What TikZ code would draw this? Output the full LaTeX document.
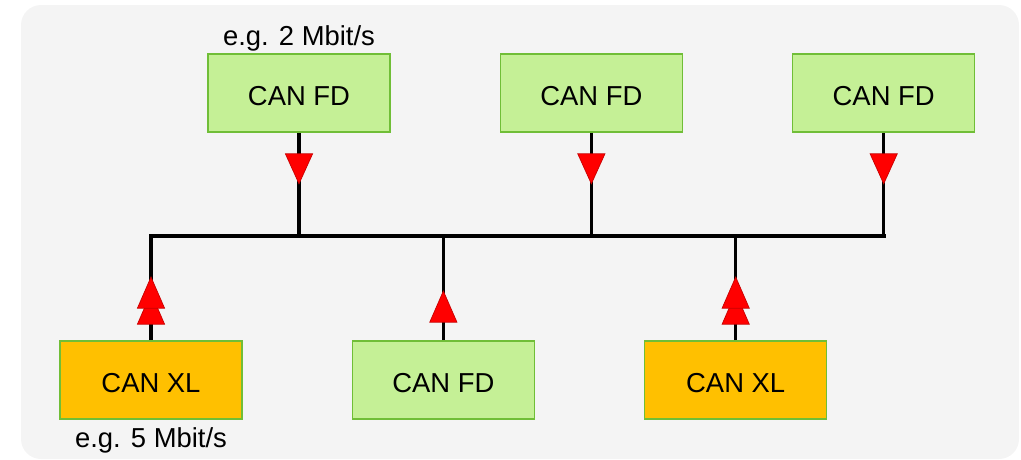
\documentclass[tikz,border=0pt]{standalone}
\usepackage{fontspec}
\setmainfont{Liberation Sans}
\usetikzlibrary{positioning,calc}
\definecolor{bggray}{RGB}{244,244,244}
\definecolor{fdgreen}{RGB}{197,240,150}
\definecolor{xlorange}{RGB}{255,192,0}
\definecolor{boxedge}{RGB}{112,190,55}
\definecolor{tired}{RGB}{255,0,0}
\definecolor{tiredge}{RGB}{200,0,0}

% red markers on the stubs (base centre given)
\newcommand{\downtri}[1]{\filldraw[tri] ($(#1)+(-0.34,0)$) -- ++(0.68,0) -- ++(-0.34,-0.75) -- cycle;}
\newcommand{\uptri}[1]{\filldraw[tri] ($(#1)+(-0.34,0)$) -- ++(0.68,0) -- ++(-0.34,0.78) -- cycle;}

\begin{document}
\begin{tikzpicture}[
      node distance=2.72cm,
      font=\fontsize{19.5}{23}\selectfont,
      canbox/.style={
        draw=boxedge, line width=1.1pt, align=center,
        minimum width=4.55cm, minimum height=1.95cm,
        text height=0.64cm, text depth=0cm
      },
      fd/.style={canbox, fill=fdgreen},
      xl/.style={canbox, fill=xlorange},
      bus/.style={line width=2.8pt, line cap=rect},
      stub/.style={line width=2.2pt},
      tri/.style={fill=tired, draw=tiredge, line width=0.5pt}
    ]
      \useasboundingbox (0,0) rectangle (25.525,-11.475);
      \fill[bggray, rounded corners=0.5cm] (0.525,-0.125) rectangle (25.475,-11.475);

      % top row
      \node[fd] (fda) at (7.475,-2.325) {CAN FD};
      \node[fd, right=of fda] (fdb) {CAN FD};
      \node[fd, right=of fdb] (fdc) {CAN FD};
      \node[draw=none, above=0.02cm of fda, inner sep=1pt] (ratea) {e.g. 2 Mbit/s};

      % bottom row
      \node[xl] (xla) at (3.775,-9.5) {CAN XL};
      \node[fd, right=of xla] (fdd) {CAN FD};
      \node[xl, right=of fdd] (xlb) {CAN XL};
      \node[draw=none, below=0.15cm of xla, inner sep=1pt] (rateb) {e.g. 5 Mbit/s};

      % bus line
      \coordinate (busl) at (xla.north |- 0,-5.9);
      \coordinate (busr) at (fdc.south |- 0,-5.9);
      \draw[bus] (busl) -- (busr);

      % stubs
      \draw[stub] (fda.south) -- (fda.south |- busl);
      \draw[stub] (fdb.south) -- (fdb.south |- busl);
      \draw[stub] (fdc.south) -- (fdc.south |- busl);
      \draw[stub] (xla.north) -- (busl);
      \draw[stub] (fdd.north) -- (fdd.north |- busl);
      \draw[stub] (xlb.north) -- (xlb.north |- busl);

      % markers
      \downtri{$(fda.south)+(0,-0.525)$}
      \downtri{$(fdb.south)+(0,-0.525)$}
      \downtri{$(fdc.south)+(0,-0.525)$}
      \uptri{$(xla.north)+(0,0.4)$}
      \uptri{$(xla.north)+(0,0.8)$}
      \uptri{$(fdd.north)+(0,0.45)$}
      \uptri{$(xlb.north)+(0,0.4)$}
      \uptri{$(xlb.north)+(0,0.8)$}
    \end{tikzpicture}
\end{document}
